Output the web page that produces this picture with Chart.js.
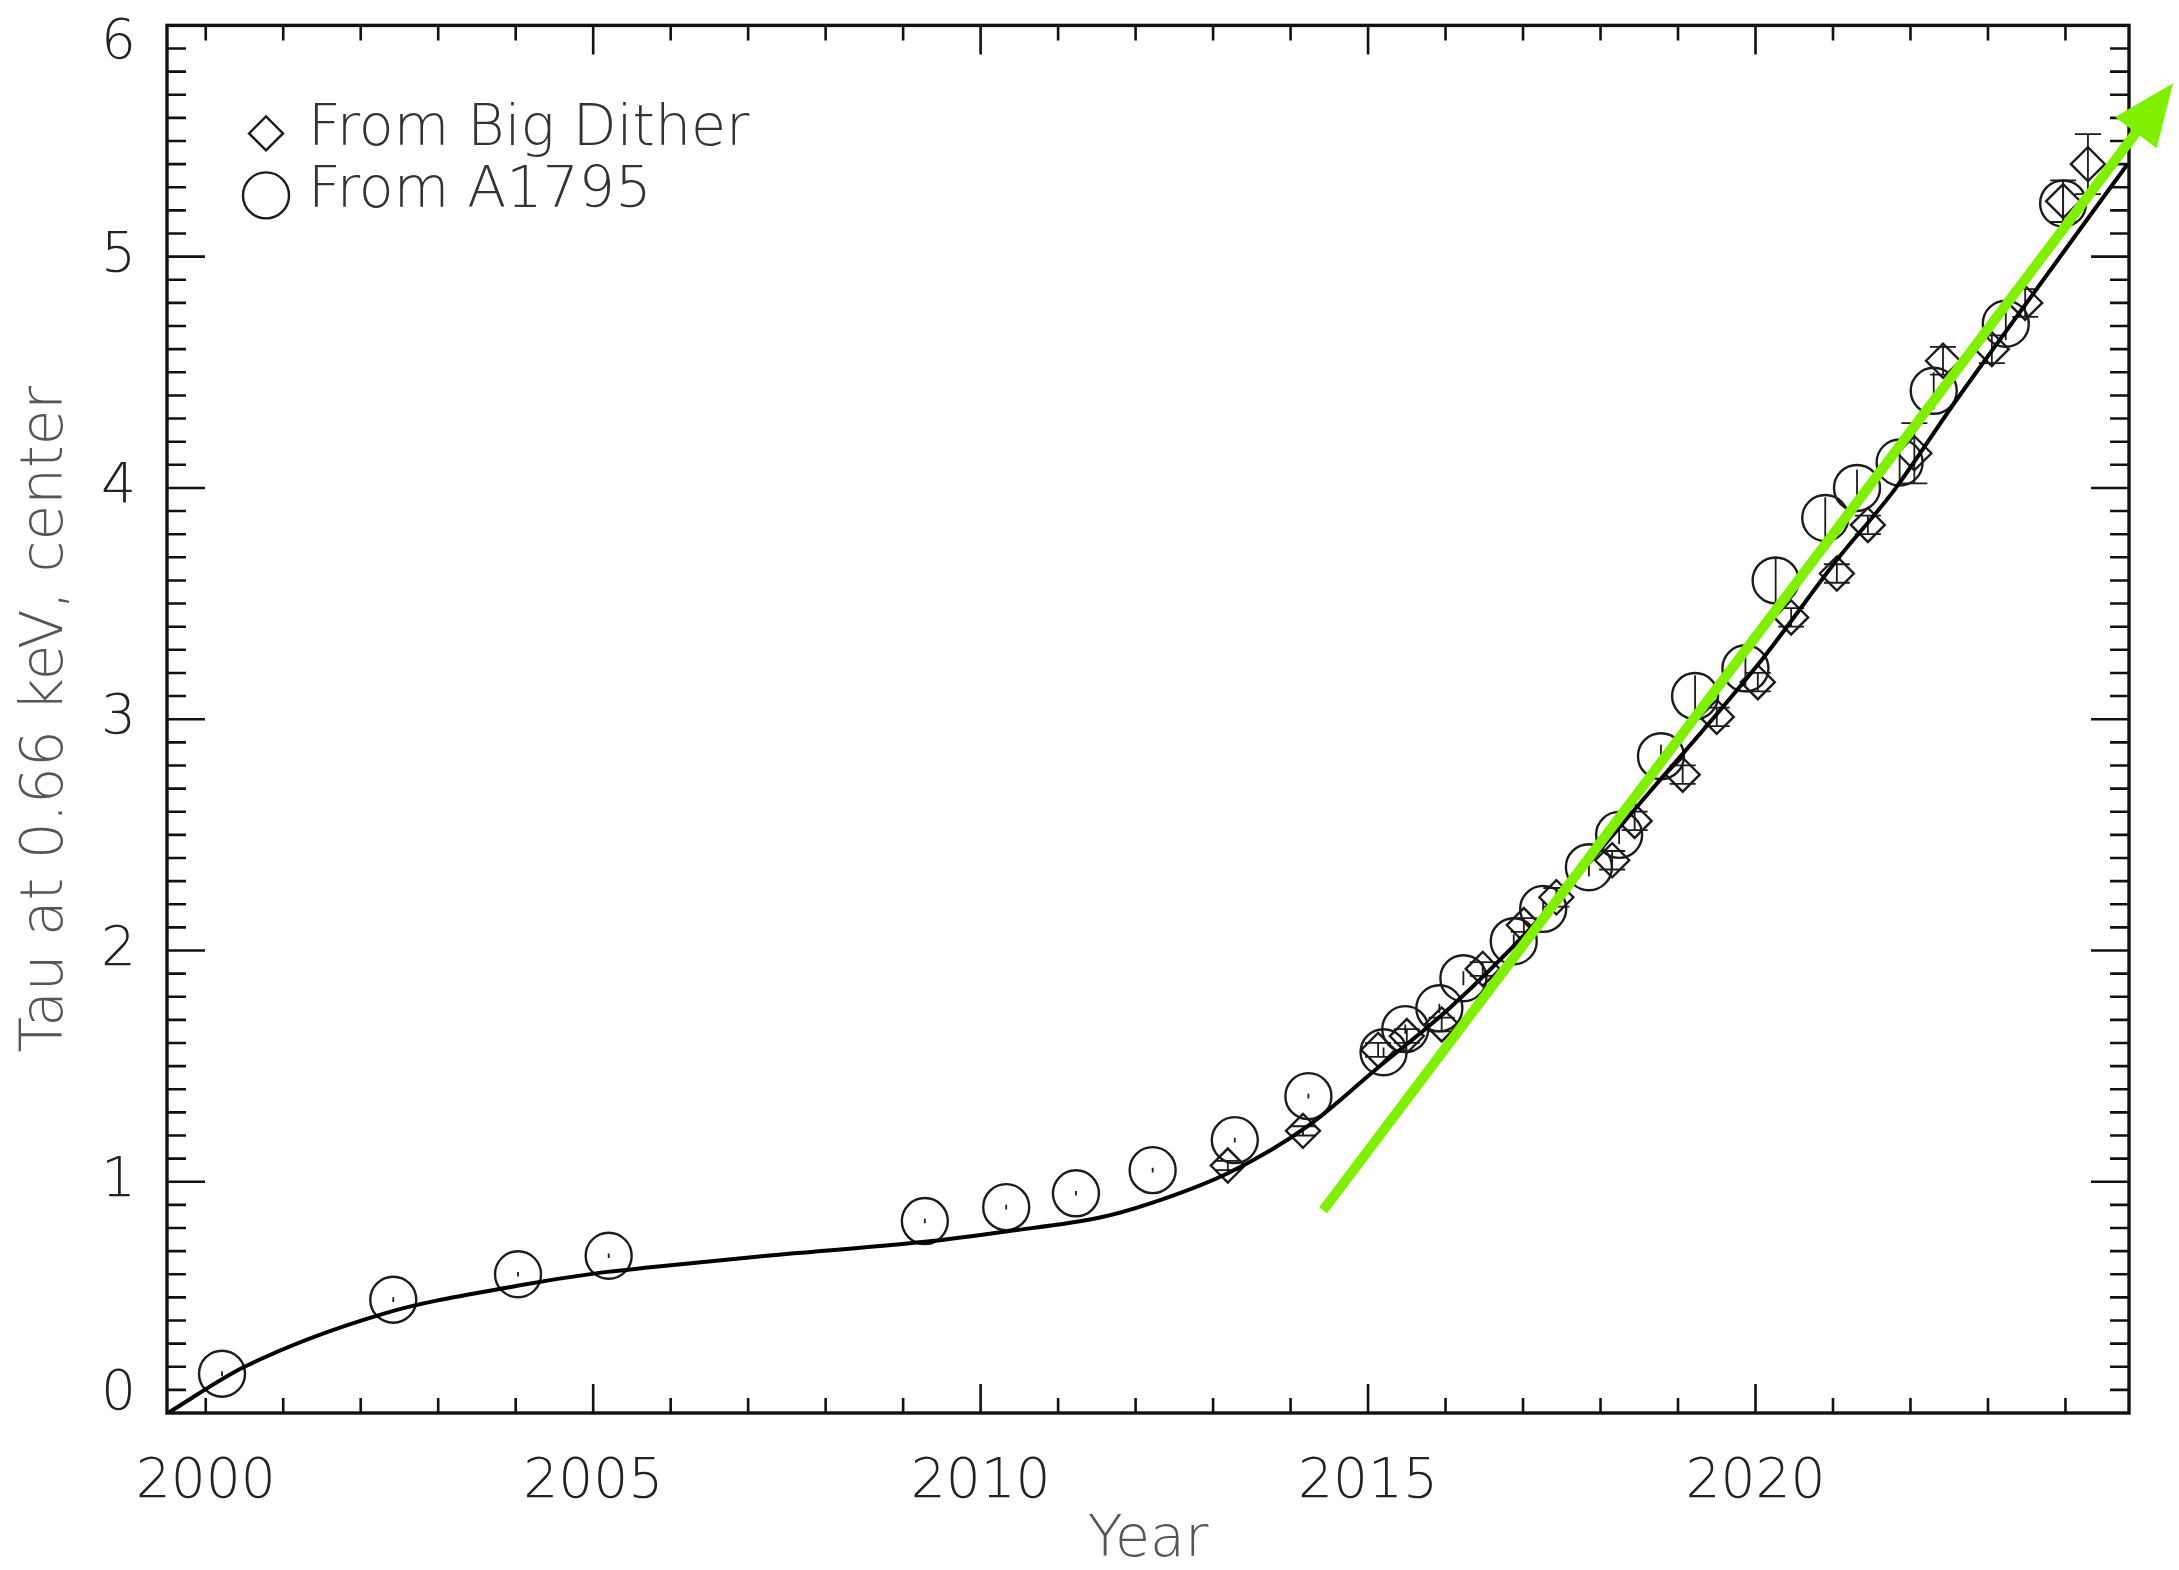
<!DOCTYPE html>
<html>
<head>
<meta charset="utf-8">
<title>Tau at 0.66 keV, center</title>
<script src="https://cdn.jsdelivr.net/npm/chart.js@4.4.1/dist/chart.umd.min.js"></script>
<style>
  html, body { margin: 0; padding: 0; background: #fff; }
  canvas { display: block; }
</style>
</head>
<body>
<canvas id="tauChart" width="2179" height="1570"></canvas>
<script>
// A1795 measurements (circles)
const a1795Years = [2000.21, 2002.42, 2004.03, 2005.20, 2009.28, 2010.33, 2011.23, 2012.22, 2013.28, 2014.23,
  2015.20, 2015.48, 2015.92, 2016.23, 2016.88, 2017.26, 2017.85, 2018.24, 2018.78, 2019.22,
  2019.87, 2020.26, 2020.90, 2021.31, 2021.86, 2022.30, 2023.23, 2023.97];
const a1795Tau = [0.17, 0.49, 0.60, 0.68, 0.83, 0.89, 0.95, 1.05, 1.18, 1.37,
  1.56, 1.66, 1.75, 1.88, 2.04, 2.18, 2.36, 2.50, 2.84, 3.10,
  3.22, 3.60, 3.87, 4.00, 4.11, 4.42, 4.71, 5.23];
const a1795Err = [0.01, 0.01, 0.01, 0.01, 0.01, 0.01, 0.01, 0.01, 0.01, 0.01,
  0.02, 0.02, 0.02, 0.03, 0.03, 0.03, 0.04, 0.04, 0.05, 0.09,
  0.08, 0.10, 0.09, 0.08, 0.10, 0.08, 0.07, 0.09];

// Big Dither measurements (diamonds)
const ditherYears = [2013.19, 2014.16, 2015.13, 2015.50, 2015.95, 2016.48, 2017.01, 2017.43, 2018.15, 2018.44,
  2019.06, 2019.50, 2020.03, 2020.46, 2021.05, 2021.45, 2022.05, 2022.42, 2023.05, 2023.48,
  2023.97, 2024.29];
const ditherTau = [1.07, 1.22, 1.57, 1.63, 1.68, 1.92, 2.11, 2.23, 2.39, 2.56,
  2.76, 3.01, 3.16, 3.44, 3.63, 3.84, 4.15, 4.55, 4.60, 4.80,
  5.24, 5.40];
const ditherErr = [0.02, 0.02, 0.03, 0.03, 0.03, 0.03, 0.03, 0.04, 0.04, 0.04,
  0.04, 0.04, 0.04, 0.04, 0.04, 0.04, 0.13, 0.06, 0.06, 0.06,
  0.09, 0.13];

// model curve
const fitYears = [1999.51, 2000.50, 2002.30, 2004.02, 2005.10, 2005.74, 2007.24, 2009.28, 2010.33, 2011.54,
  2012.18, 2013.21, 2014.24, 2015.08, 2016.05, 2017.08, 2018.62, 2020.10, 2021.03, 2021.80,
  2022.53, 2023.00, 2024.80];
const fitTau = [0.00, 0.20, 0.43, 0.55, 0.607, 0.63, 0.68, 0.74, 0.785, 0.845,
  0.905, 1.04, 1.245, 1.48, 1.75, 2.09, 2.68, 3.265, 3.68, 3.995,
  4.35, 4.57, 5.40];

// green trend arrow (start, tip)
const arrowYears = [2014.42, 2025.39];
const arrowTau = [0.877, 5.75];

const xTickValues = [2000, 2005, 2010, 2015, 2020];
const xMajorTicks = [2005, 2010, 2015, 2020];
const yTickValues = [0, 1, 2, 3, 4, 5, 6];

const FONT = "'DejaVu Sans', 'Liberation Sans', sans-serif";
Chart.defaults.font.family = FONT;
Chart.defaults.font.weight = '200';

function toPoints(xs, ys) {
  return xs.map(function (x, i) { return { x: x, y: ys[i] }; });
}

const errorBarsPlugin = {
  id: 'errorBars',
  beforeDatasetsDraw(chart) {
    const ctx = chart.ctx;
    const xs = chart.scales.x;
    const ys = chart.scales.y;
    chart.data.datasets.forEach(function (ds) {
      if (!ds.errors) return;
      ctx.save();
      ctx.strokeStyle = ds.borderColor;
      ctx.lineWidth = 1.8;
      ctx.beginPath();
      ds.data.forEach(function (p, i) {
        const px = xs.getPixelForValue(p.x);
        const top = ys.getPixelForValue(p.y + ds.errors[i]);
        const bot = ys.getPixelForValue(p.y - ds.errors[i]);
        ctx.moveTo(px, top);
        ctx.lineTo(px, bot);
        if (ds.capWidth) {
          ctx.moveTo(px - ds.capWidth / 2, top);
          ctx.lineTo(px + ds.capWidth / 2, top);
          ctx.moveTo(px - ds.capWidth / 2, bot);
          ctx.lineTo(px + ds.capWidth / 2, bot);
        }
      });
      ctx.stroke();
      ctx.restore();
    });
  }
};

const legendPlugin = {
  id: 'insideLegend',
  afterDatasetsDraw(chart) {
    const ctx = chart.ctx;
    const a = chart.chartArea;
    const rows = chart.data.datasets.filter(function (ds) { return ds.inLegend; })
      .sort(function (p, q) { return p.inLegend - q.inLegend; });
    ctx.save();
    ctx.font = '200 57px ' + FONT;
    ctx.textBaseline = 'middle';
    ctx.fillStyle = '#333';
    rows.forEach(function (ds, i) {
      const cx = a.left + 99;
      const cy = a.top + 108 + i * 62;
      ctx.strokeStyle = ds.borderColor;
      ctx.lineWidth = ds.borderWidth;
      ctx.beginPath();
      if (ds.pointStyle === 'circle') {
        ctx.arc(cx, cy, ds.pointRadius, 0, Math.PI * 2);
      } else {
        const r = ds.pointRadius;
        ctx.moveTo(cx, cy - r);
        ctx.lineTo(cx + r, cy);
        ctx.lineTo(cx, cy + r);
        ctx.lineTo(cx - r, cy);
        ctx.closePath();
      }
      ctx.stroke();
      ctx.fillText(ds.label, a.left + 141, cy - 3);
    });
    ctx.restore();
  }
};

// IDL style box: inward ticks on all four sides
const frameTicksPlugin = {
  id: 'frameTicks',
  afterDraw(chart) {
    const ctx = chart.ctx;
    const a = chart.chartArea;
    const x = chart.scales.x;
    const y = chart.scales.y;
    ctx.save();
    ctx.strokeStyle = '#111';
    ctx.lineWidth = 2.6;
    ctx.beginPath();
    for (let yr = Math.ceil(x.min); yr < x.max; yr++) {
      const px = x.getPixelForValue(yr);
      const len = xMajorTicks.includes(yr) ? 29 : 15;
      ctx.moveTo(px, a.bottom);
      ctx.lineTo(px, a.bottom - len);
      ctx.moveTo(px, a.top);
      ctx.lineTo(px, a.top + len);
    }
    for (let i = 1; i < y.max * 10; i++) {
      const py = y.getPixelForValue(i / 10);
      const len = i % 10 === 0 ? 38 : 19;
      ctx.moveTo(a.left, py);
      ctx.lineTo(a.left + len, py);
      ctx.moveTo(a.right, py);
      ctx.lineTo(a.right - len, py);
    }
    ctx.stroke();
    ctx.lineWidth = 3.4;
    ctx.strokeRect(a.left, a.top, a.right - a.left, a.bottom - a.top);
    ctx.restore();
  }
};

const arrowPlugin = {
  id: 'trendArrow',
  afterDraw(chart) {
    const ctx = chart.ctx;
    const x = chart.scales.x;
    const y = chart.scales.y;
    const x0 = x.getPixelForValue(arrowYears[0]);
    const y0 = y.getPixelForValue(arrowTau[0]);
    const x1 = x.getPixelForValue(arrowYears[1]);
    const y1 = y.getPixelForValue(arrowTau[1]);
    const ang = Math.atan2(y1 - y0, x1 - x0);
    const headLen = 62;
    const headHalf = 26;
    const bx = x1 - headLen * Math.cos(ang);
    const by = y1 - headLen * Math.sin(ang);
    ctx.save();
    ctx.strokeStyle = '#7ff000';
    ctx.fillStyle = '#7ff000';
    ctx.lineWidth = 10;
    ctx.beginPath();
    ctx.moveTo(x0, y0);
    ctx.lineTo(bx + 4 * Math.cos(ang), by + 4 * Math.sin(ang));
    ctx.stroke();
    ctx.beginPath();
    ctx.moveTo(x1, y1);
    ctx.lineTo(bx - headHalf * Math.sin(ang), by + headHalf * Math.cos(ang));
    ctx.lineTo(bx + headHalf * Math.sin(ang), by - headHalf * Math.cos(ang));
    ctx.closePath();
    ctx.fill();
    ctx.restore();
  }
};

new Chart(document.getElementById('tauChart'), {
  type: 'scatter',
  data: {
    datasets: [
      {
        type: 'line',
        label: 'fit',
        data: toPoints(fitYears, fitTau),
        borderColor: '#000',
        borderWidth: 4,
        pointRadius: 0,
        cubicInterpolationMode: 'monotone',
        fill: false
      },
      {
        label: 'From A1795',
        data: toPoints(a1795Years, a1795Tau),
        errors: a1795Err,
        inLegend: 2,
        pointStyle: 'circle',
        pointRadius: 23,
        borderColor: '#1c1c1c',
        borderWidth: 2.4,
        backgroundColor: 'rgba(0,0,0,0)'
      },
      {
        label: 'From Big Dither',
        data: toPoints(ditherYears, ditherTau),
        errors: ditherErr,
        capWidth: 26,
        inLegend: 1,
        pointStyle: 'rectRot',
        pointRadius: 17,
        borderColor: '#1c1c1c',
        borderWidth: 2.4,
        backgroundColor: 'rgba(0,0,0,0)'
      }
    ]
  },
  options: {
    responsive: false,
    animation: false,
    devicePixelRatio: 1,
    events: [],
    layout: { padding: { left: 0, top: 17, right: 50, bottom: 0 } },
    plugins: {
      legend: { display: false },
      tooltip: { enabled: false }
    },
    scales: {
      x: {
        type: 'linear',
        min: 1999.5,
        max: 2024.82,
        grid: { display: false },
        border: { display: false },
        ticks: {
          color: '#222',
          padding: 29,
          maxRotation: 0,
          autoSkip: false,
          font: { size: 55, weight: '200' },
          callback: function (v) { return String(v); }
        },
        afterBuildTicks: function (s) {
          s.ticks = xTickValues.map(function (v) { return { value: v }; });
        },
        afterFit: function (s) {
          s.height = 157;
          s.paddingLeft = 0;
          s.paddingRight = 0;
        },
        title: {
          display: true,
          text: 'Year',
          color: '#555',
          padding: 0,
          font: { size: 57, weight: '200', lineHeight: 1 }
        }
      },
      y: {
        type: 'linear',
        min: 0,
        max: 6,
        grid: { display: false },
        border: { display: false },
        ticks: {
          color: '#222',
          padding: 23,
          autoSkip: false,
          font: { size: 55, weight: '200', lineHeight: 0.65 },
          // end labels sit inside the box, like the original
          callback: function (v) {
            if (v === 6) return ['', String(v)];
            if (v === 0) return [String(v), ''];
            return String(v);
          }
        },
        afterBuildTicks: function (s) {
          s.ticks = yTickValues.map(function (v) { return { value: v }; });
        },
        afterFit: function (s) {
          s.width = 167;
          s.paddingTop = 0;
          s.paddingBottom = 0;
        },
        title: {
          display: true,
          text: 'Tau at 0.66 keV, center',
          color: '#555',
          padding: { top: 18, bottom: 0 },
          font: { size: 58, weight: '200', lineHeight: 1 }
        }
      }
    }
  },
  plugins: [errorBarsPlugin, legendPlugin, frameTicksPlugin, arrowPlugin]
});
</script>
</body>
</html>
